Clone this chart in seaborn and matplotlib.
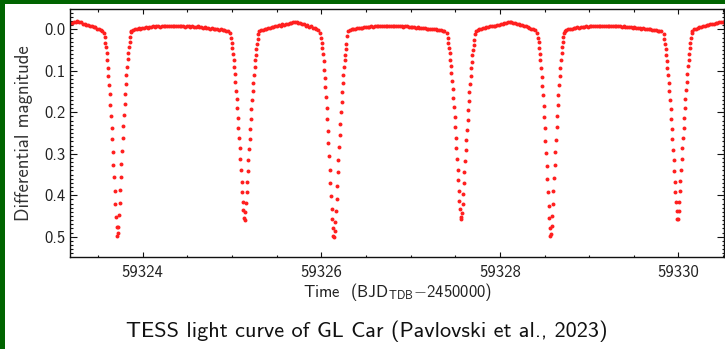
import numpy as np
import pandas as pd
import matplotlib
matplotlib.use("Agg")
import matplotlib.pyplot as plt
import seaborn as sns
from matplotlib.patches import Rectangle
from matplotlib.ticker import MultipleLocator

# ---------------- data ----------------
CADENCE = 0.00694      # TESS 10-min cadence inside eclipses (days)
OOE_STEP = 0.02        # sampling used for the out-of-eclipse parts (days)

# out-of-eclipse segments: start times and magnitudes
ooe1_start = 59323.190
ooe1_mag = [-0.016, -0.015, -0.018, -0.017, -0.019, -0.017, -0.017, -0.014, -0.014, -0.011,
            -0.011, -0.008, -0.008, -0.005, -0.005, -0.002, -0.001, 0.002, 0.003]

ooe2_start = 59323.875
ooe2_mag = [0.004, 0.002, -0.001, -0.001, -0.003, -0.002, -0.004, -0.003, -0.005, -0.004,
            -0.006, -0.005, -0.007, -0.006, -0.007, -0.008, -0.006, -0.008, -0.007, -0.009,
            -0.008, -0.007, -0.009, -0.008, -0.007, -0.009, -0.008, -0.007, -0.009, -0.008,
            -0.006, -0.008, -0.007, -0.006, -0.008, -0.006, -0.005, -0.007, -0.005, -0.006,
            -0.004, -0.005, -0.003, -0.004, -0.002, -0.003, -0.001, -0.002, 0.000, 0.001,
            0.000, 0.002, 0.002, 0.003, 0.004]

ooe3_start = 59325.305
ooe3_mag = [0.004, 0.002, 0.001, -0.002, -0.001, -0.004, -0.003, -0.006, -0.005, -0.008,
            -0.007, -0.010, -0.009, -0.012, -0.011, -0.014, -0.014, -0.016, -0.016, -0.018,
            -0.017, -0.017, -0.015, -0.015, -0.012, -0.012, -0.009, -0.010, -0.006, -0.007,
            -0.003, -0.003, 0.000, 0.002]

ooe4_start = 59326.300
ooe4_mag = [0.004, 0.001, -0.001, -0.002, -0.002, -0.003, -0.003, -0.004, -0.004, -0.005,
            -0.005, -0.006, -0.006, -0.007, -0.006, -0.008, -0.007, -0.007, -0.009, -0.008,
            -0.007, -0.008, -0.009, -0.007, -0.008, -0.008, -0.009, -0.007, -0.008, -0.007,
            -0.008, -0.006, -0.007, -0.007, -0.006, -0.006, -0.005, -0.006, -0.004, -0.005,
            -0.004, -0.004, -0.003, -0.003, -0.002, -0.002, -0.001, -0.001, 0.000, 0.000,
            0.001, 0.001, 0.002, 0.003, 0.004]

ooe5_start = 59327.730
ooe5_mag = [0.003, 0.001, 0.000, -0.001, -0.003, -0.003, -0.005, -0.005, -0.007, -0.007,
            -0.009, -0.009, -0.011, -0.011, -0.013, -0.013, -0.015, -0.016, -0.017, -0.017,
            -0.018, -0.016, -0.016, -0.014, -0.013, -0.011, -0.010, -0.008, -0.007, -0.005,
            -0.004, -0.002, 0.000, 0.002]

ooe6_start = 59328.726
ooe6_mag = [0.004, 0.002, 0.000, -0.002, -0.002, -0.004, -0.003, -0.005, -0.004, -0.006,
            -0.005, -0.006, -0.007, -0.006, -0.008, -0.007, -0.008, -0.007, -0.009, -0.007,
            -0.008, -0.009, -0.008, -0.007, -0.009, -0.008, -0.008, -0.007, -0.009, -0.007,
            -0.007, -0.008, -0.006, -0.007, -0.006, -0.006, -0.005, -0.006, -0.004, -0.005,
            -0.003, -0.004, -0.003, -0.002, -0.003, -0.001, -0.002, 0.000, 0.000, 0.001,
            0.001, 0.002, 0.003, 0.003, 0.004]

ooe7_start = 59330.155
ooe7_mag = [0.003, 0.000, -0.002, -0.003, -0.005, -0.006, -0.008, -0.009, -0.010, -0.011,
            -0.012, -0.013, -0.014, -0.015, -0.016, -0.017, -0.017, -0.018, -0.018]

# eclipse segments (10-min cadence): start times and magnitudes
prim1_start = 59323.569
prim1_mag = [0.008, 0.019, 0.032, 0.043, 0.058, 0.074, 0.092, 0.113, 0.134, 0.156,
             0.182, 0.209, 0.237, 0.265, 0.295, 0.327, 0.357, 0.389, 0.422, 0.452,
             0.476, 0.497, 0.492, 0.476, 0.447, 0.419, 0.387, 0.355, 0.325, 0.293,
             0.263, 0.233, 0.207, 0.180, 0.156, 0.132, 0.110, 0.090, 0.072, 0.056,
             0.042, 0.030, 0.018, 0.007]

sec1_start = 59324.983
sec1_mag = [0.010, 0.022, 0.034, 0.046, 0.060, 0.074, 0.090, 0.108, 0.128, 0.148,
            0.169, 0.190, 0.214, 0.239, 0.263, 0.287, 0.313, 0.339, 0.367, 0.391,
            0.415, 0.435, 0.455, 0.460, 0.440, 0.418, 0.393, 0.368, 0.341, 0.315,
            0.289, 0.264, 0.240, 0.215, 0.192, 0.170, 0.149, 0.129, 0.109, 0.091,
            0.075, 0.061, 0.047, 0.035, 0.023, 0.011]

prim2_start = 59325.991
prim2_mag = [0.010, 0.022, 0.033, 0.045, 0.060, 0.077, 0.097, 0.118, 0.140, 0.164,
             0.190, 0.217, 0.245, 0.275, 0.306, 0.338, 0.370, 0.402, 0.432, 0.458,
             0.480, 0.497, 0.500, 0.486, 0.464, 0.438, 0.408, 0.377, 0.345, 0.314,
             0.284, 0.255, 0.227, 0.200, 0.175, 0.151, 0.130, 0.110, 0.091, 0.075,
             0.061, 0.048, 0.036, 0.015]

sec2_start = 59327.409
sec2_mag = [0.009, 0.020, 0.032, 0.045, 0.058, 0.073, 0.089, 0.106, 0.125, 0.145,
            0.166, 0.188, 0.211, 0.236, 0.261, 0.286, 0.312, 0.338, 0.364, 0.389,
            0.413, 0.434, 0.452, 0.458, 0.443, 0.421, 0.396, 0.370, 0.344, 0.318,
            0.292, 0.267, 0.242, 0.218, 0.195, 0.173, 0.152, 0.132, 0.112, 0.094,
            0.078, 0.063, 0.049, 0.037, 0.025, 0.012]

prim3_start = 59328.420
prim3_mag = [0.009, 0.020, 0.031, 0.044, 0.059, 0.075, 0.094, 0.115, 0.136, 0.159,
             0.184, 0.211, 0.239, 0.268, 0.298, 0.330, 0.361, 0.393, 0.425, 0.454,
             0.478, 0.498, 0.493, 0.474, 0.449, 0.421, 0.390, 0.358, 0.327, 0.296,
             0.266, 0.236, 0.209, 0.183, 0.158, 0.134, 0.112, 0.092, 0.073, 0.057,
             0.043, 0.031, 0.019, 0.008]

sec3_start = 59329.835
sec3_mag = [0.011, 0.023, 0.035, 0.047, 0.061, 0.076, 0.092, 0.110, 0.129, 0.149,
            0.170, 0.192, 0.216, 0.240, 0.265, 0.290, 0.315, 0.341, 0.368, 0.392,
            0.416, 0.437, 0.456, 0.458, 0.438, 0.415, 0.390, 0.365, 0.339, 0.313,
            0.287, 0.262, 0.238, 0.214, 0.190, 0.168, 0.147, 0.127, 0.107, 0.089,
            0.073, 0.059, 0.045, 0.033, 0.021, 0.010]

x_ticks = [59324, 59326, 59328, 59330]
x_tick_labels = ["59324", "59326", "59328", "59330"]
y_ticks = [0.0, 0.1, 0.2, 0.3, 0.4, 0.5]
y_tick_labels = ["0.0", "0.1", "0.2", "0.3", "0.4", "0.5"]

title_text = "TESS light curve of GL Car (Pavlovski et al., 2023)"
x_label = r"Time  (BJD$_{\mathsf{TDB}}$$-$2450000)"
y_label = "Differential magnitude"

# ---------------- build table ----------------
segments = [
    (ooe1_start, OOE_STEP, ooe1_mag), (prim1_start, CADENCE, prim1_mag),
    (ooe2_start, OOE_STEP, ooe2_mag), (sec1_start, CADENCE, sec1_mag),
    (ooe3_start, OOE_STEP, ooe3_mag), (prim2_start, CADENCE, prim2_mag),
    (ooe4_start, OOE_STEP, ooe4_mag), (sec2_start, CADENCE, sec2_mag),
    (ooe5_start, OOE_STEP, ooe5_mag), (prim3_start, CADENCE, prim3_mag),
    (ooe6_start, OOE_STEP, ooe6_mag), (sec3_start, CADENCE, sec3_mag),
    (ooe7_start, OOE_STEP, ooe7_mag),
]
frames = []
for start, step, mags in segments:
    t = start + step * np.arange(len(mags))
    frames.append(pd.DataFrame({"time": t, "mag": mags}))
df = pd.concat(frames, ignore_index=True)

# ---------------- plot ----------------
sns.set_theme(style="ticks")
plt.rcParams["font.family"] = ["cmss10", "DejaVu Sans"]
plt.rcParams["mathtext.fontset"] = "cm"
plt.rcParams["axes.unicode_minus"] = False

W, H = 725, 349
fig = plt.figure(figsize=(W / 100, H / 100), dpi=100, facecolor="white")
ax = fig.add_axes([70.3 / W, 1 - 256.7 / H, (724 - 70.3) / W, (256.7 - 9) / H])

sns.scatterplot(data=df, x="time", y="mag", ax=ax, color="#ff1f1f",
                s=8, linewidth=0, legend=False)

ax.set_xlim(59323.19, 59330.51)
ax.set_ylim(0.548, -0.049)
ax.set_xticks(x_ticks)
ax.set_xticklabels(x_tick_labels)
ax.set_yticks(y_ticks)
ax.set_yticklabels(y_tick_labels)
ax.xaxis.set_minor_locator(MultipleLocator(0.5))
ax.yaxis.set_minor_locator(MultipleLocator(0.01))

ax.tick_params(which="both", direction="in", top=True, right=True,
               colors="#111111", labelcolor="#222222", labelsize=12, width=0.8)
ax.tick_params(axis="x", which="major", length=3.8, pad=6)
ax.tick_params(axis="y", which="major", length=5.0, pad=3.5)
ax.tick_params(which="minor", length=1.8)
for sp in ax.spines.values():
    sp.set_linewidth(1.0)
    sp.set_color("#111111")
    sp.set_visible(True)

ax.set_xlabel(x_label, fontsize=12, color="#222222", labelpad=1)
ax.set_ylabel(y_label, fontsize=13.5, color="#333333", labelpad=8)

fig.text(367 / W, 1 - 337.3 / H, title_text, ha="center", va="baseline",
         fontsize=16, color="#111111")

# dark green frame on the left and top
green = "#006400"
fig.patches.append(Rectangle((0, 0), 5 / W, 1, transform=fig.transFigure,
                             facecolor=green, edgecolor="none", zorder=10))
fig.patches.append(Rectangle((0, 1 - 4 / H), 1, 4 / H, transform=fig.transFigure,
                             facecolor=green, edgecolor="none", zorder=10))

fig.savefig("out.png", dpi=100, facecolor="white")
